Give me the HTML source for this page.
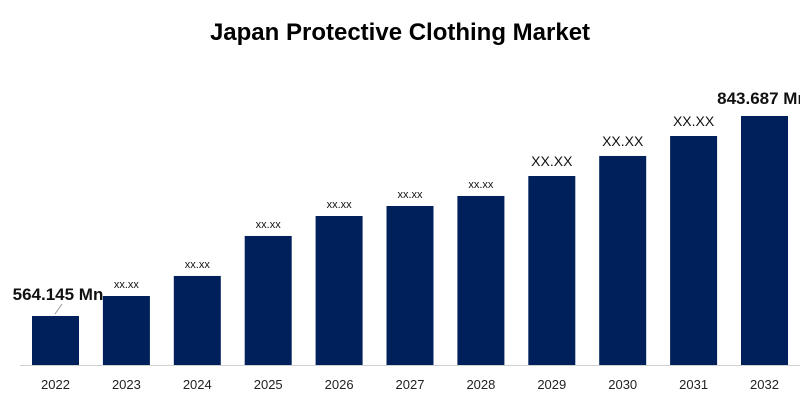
<!DOCTYPE html>
<html><head><meta charset="utf-8"><style>
html,body{margin:0;padding:0;background:#fff;}
svg{display:block;font-family:"Liberation Sans",sans-serif;}
</style></head><body>
<svg id="chart" width="800" height="403" viewBox="0 0 800 403">
<text x="400" y="40" text-anchor="middle" font-size="24" font-weight="bold" fill="#000">Japan Protective Clothing Market</text>
<line x1="20" y1="365.5" x2="800" y2="365.5" stroke="#d0d0d0" stroke-width="1"/>
<g id="bars"></g>
<line x1="55" y1="314" x2="62" y2="304" stroke="#999" stroke-width="1"/>
</svg>
<script>
const categories=["2022","2023","2024","2025","2026","2027","2028","2029","2030","2031","2032"];
const values=[564.145,592.1,620.1,676.0,703.9,717.9,731.9,759.8,787.8,815.7,843.687];
const labels=["564.145 Mn","xx.xx","xx.xx","xx.xx","xx.xx","xx.xx","xx.xx","XX.XX","XX.XX","XX.XX","843.687 Mn"];
const NS="http://www.w3.org/2000/svg";
const baseY=365, k=0.7155, v0=495.66;
function yScale(v){return baseY-(v-v0)*k;}
function xScale(i){return 32+i*70.9;}
const bw=47;
const g=document.getElementById('bars');
categories.forEach((c,i)=>{
  const x=xScale(i), y=yScale(values[i]);
  const r=document.createElementNS(NS,'rect');
  r.setAttribute('x',x);r.setAttribute('y',y);r.setAttribute('width',bw);r.setAttribute('height',baseY-y);
  r.setAttribute('fill','#00205c');
  
  
  g.appendChild(r);
  const t=document.createElementNS(NS,'text');
  t.setAttribute('x',x+bw/2);t.setAttribute('y',389);t.setAttribute('text-anchor','middle');
  t.setAttribute('font-size','13');t.setAttribute('fill','#222');
  t.textContent=c;
  
  
  g.appendChild(t);
  const l=document.createElementNS(NS,'text');
  let lx=x+bw/2, ly=y-8, fs=11, fw='normal';
  if(i===0){lx=58;ly=y-16;fs=17;fw='bold';}
  else if(i===categories.length-1){lx=x+bw/2-2;ly=y-12;fs=17;fw='bold';}
  else if(labels[i]==="XX.XX"){fs=14;ly=y-10;}
  l.setAttribute('x',lx);l.setAttribute('y',ly);l.setAttribute('text-anchor','middle');
  l.setAttribute('font-size',fs);l.setAttribute('font-weight',fw);l.setAttribute('fill','#111');
  l.textContent=labels[i];
  
  
  g.appendChild(l);
});
</script>
</body></html>
